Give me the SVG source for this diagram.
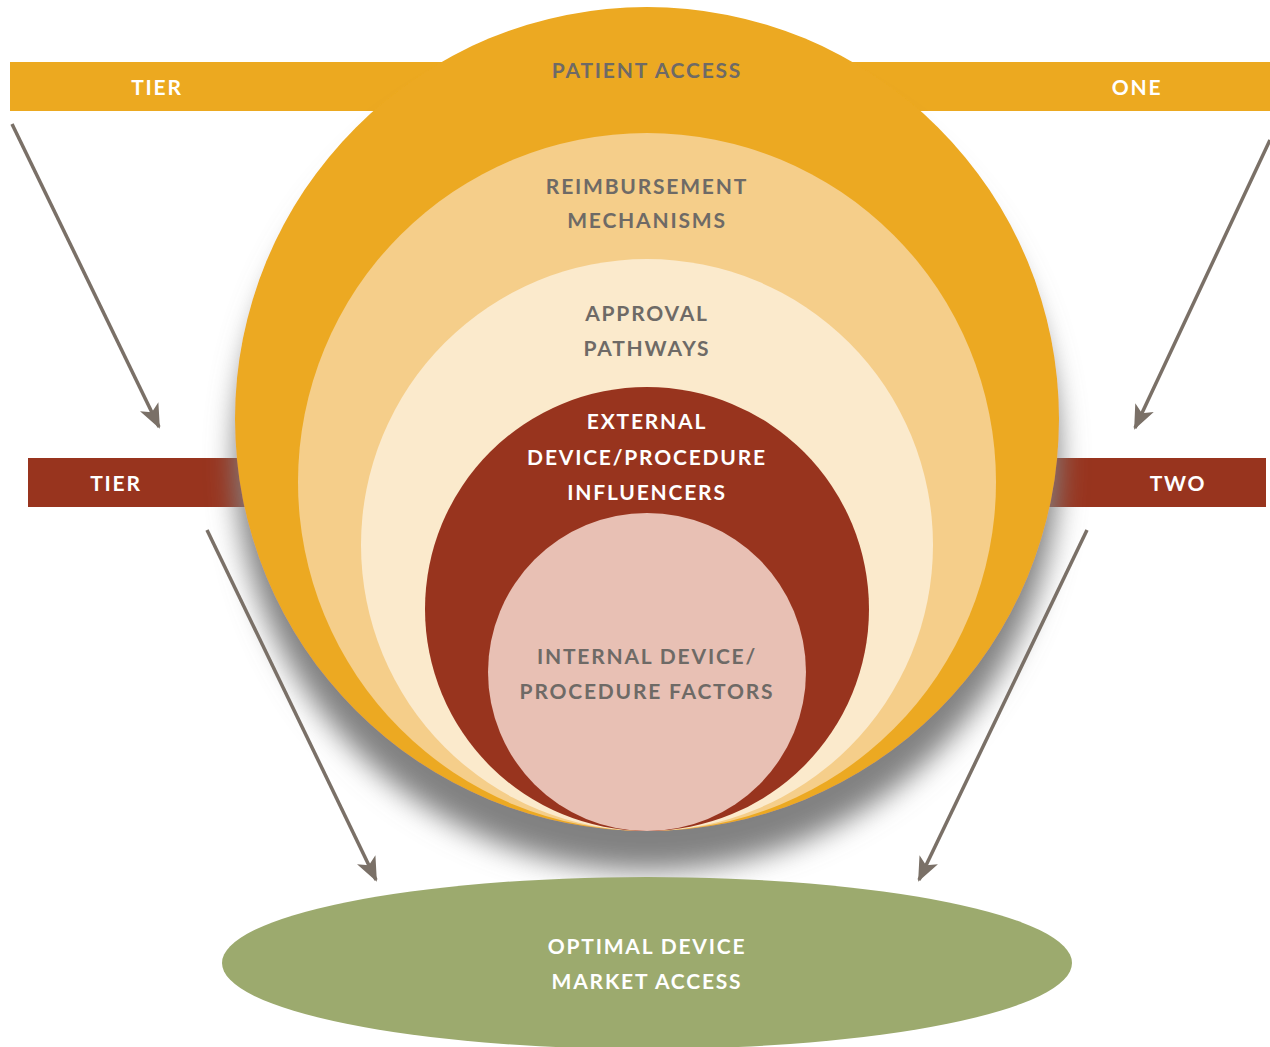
<svg xmlns="http://www.w3.org/2000/svg" width="1270" height="1047" viewBox="0 0 1270 1047">
  <defs>
    <style>
      .lbl { font-family: Lato, "Open Sans", "Liberation Sans", sans-serif; font-weight: 700; font-size: 21px; letter-spacing: 1.8px; text-anchor: middle; }
      .grey { fill: #6e6a66; }
      .white { fill: #ffffff; }
      .arrow { stroke: #7a7067; stroke-width: 3.5; fill: none; marker-end: url(#head); }
    </style>
    <marker id="head" viewBox="0 0 12 10" refX="11" refY="5" markerWidth="7" markerHeight="6" orient="auto" markerUnits="strokeWidth">
      <path d="M0,0 L12,5 L0,10 L3,5 Z" fill="#7a7067"/>
    </marker>
    <filter id="shadow" x="-20%" y="-20%" width="140%" height="150%">
      <feDropShadow dx="0" dy="40" stdDeviation="14" flood-color="#818181" flood-opacity="1"/>
    </filter>
  </defs>

  <rect width="1270" height="1047" fill="#ffffff"/>

  <!-- tier bars behind the rings -->
  <g id="tier-one-bar">
    <rect x="10" y="62" width="1260" height="49" fill="#eca920"/>
    <text class="lbl white" x="157" y="95">TIER</text>
    <text class="lbl white" x="1137" y="95">ONE</text>
  </g>
  <g id="tier-two-bar">
    <rect x="28" y="458" width="240" height="49" fill="#98341e"/>
    <rect x="1030" y="458" width="236" height="49" fill="#98341e"/>
    <text class="lbl white" x="116" y="491">TIER</text>
    <text class="lbl white" x="1178" y="491">TWO</text>
  </g>

  <!-- nested rings, all touching at the bottom -->
  <g id="patient-access">
    <circle cx="647" cy="419" r="412" fill="#eca920" filter="url(#shadow)"/>
    <text class="lbl grey" x="647" y="78">PATIENT ACCESS</text>
  </g>
  <g id="reimbursement-mechanisms">
    <circle cx="647" cy="482" r="349" fill="#f5ce8a"/>
    <text class="lbl grey" x="647" y="194">REIMBURSEMENT</text>
    <text class="lbl grey" x="647" y="228">MECHANISMS</text>
  </g>
  <g id="approval-pathways">
    <circle cx="647" cy="545" r="286" fill="#fbeacc"/>
    <text class="lbl grey" x="647" y="321">APPROVAL</text>
    <text class="lbl grey" x="647" y="356">PATHWAYS</text>
  </g>
  <g id="external-influencers">
    <circle cx="647" cy="609" r="222" fill="#98341e"/>
    <text class="lbl white" x="647" y="429">EXTERNAL</text>
    <text class="lbl white" x="647" y="465">DEVICE/PROCEDURE</text>
    <text class="lbl white" x="647" y="500">INFLUENCERS</text>
  </g>
  <g id="internal-factors">
    <circle cx="647" cy="672" r="159" fill="#e8c0b4"/>
    <text class="lbl grey" x="647" y="664">INTERNAL DEVICE/</text>
    <text class="lbl grey" x="647" y="699">PROCEDURE FACTORS</text>
  </g>

  <g id="optimal-access">
    <ellipse cx="647" cy="963" rx="425" ry="86" fill="#9caa6e"/>
    <text class="lbl white" x="647" y="954">OPTIMAL DEVICE</text>
    <text class="lbl white" x="647" y="989">MARKET ACCESS</text>
  </g>

  <g id="connectors">
    <line class="arrow" x1="12" y1="124" x2="159" y2="427"/>
    <line class="arrow" x1="1270" y1="140" x2="1135" y2="428"/>
    <line class="arrow" x1="207" y1="530" x2="376" y2="880"/>
    <line class="arrow" x1="1087" y1="530" x2="919" y2="880"/>
  </g>
</svg>
